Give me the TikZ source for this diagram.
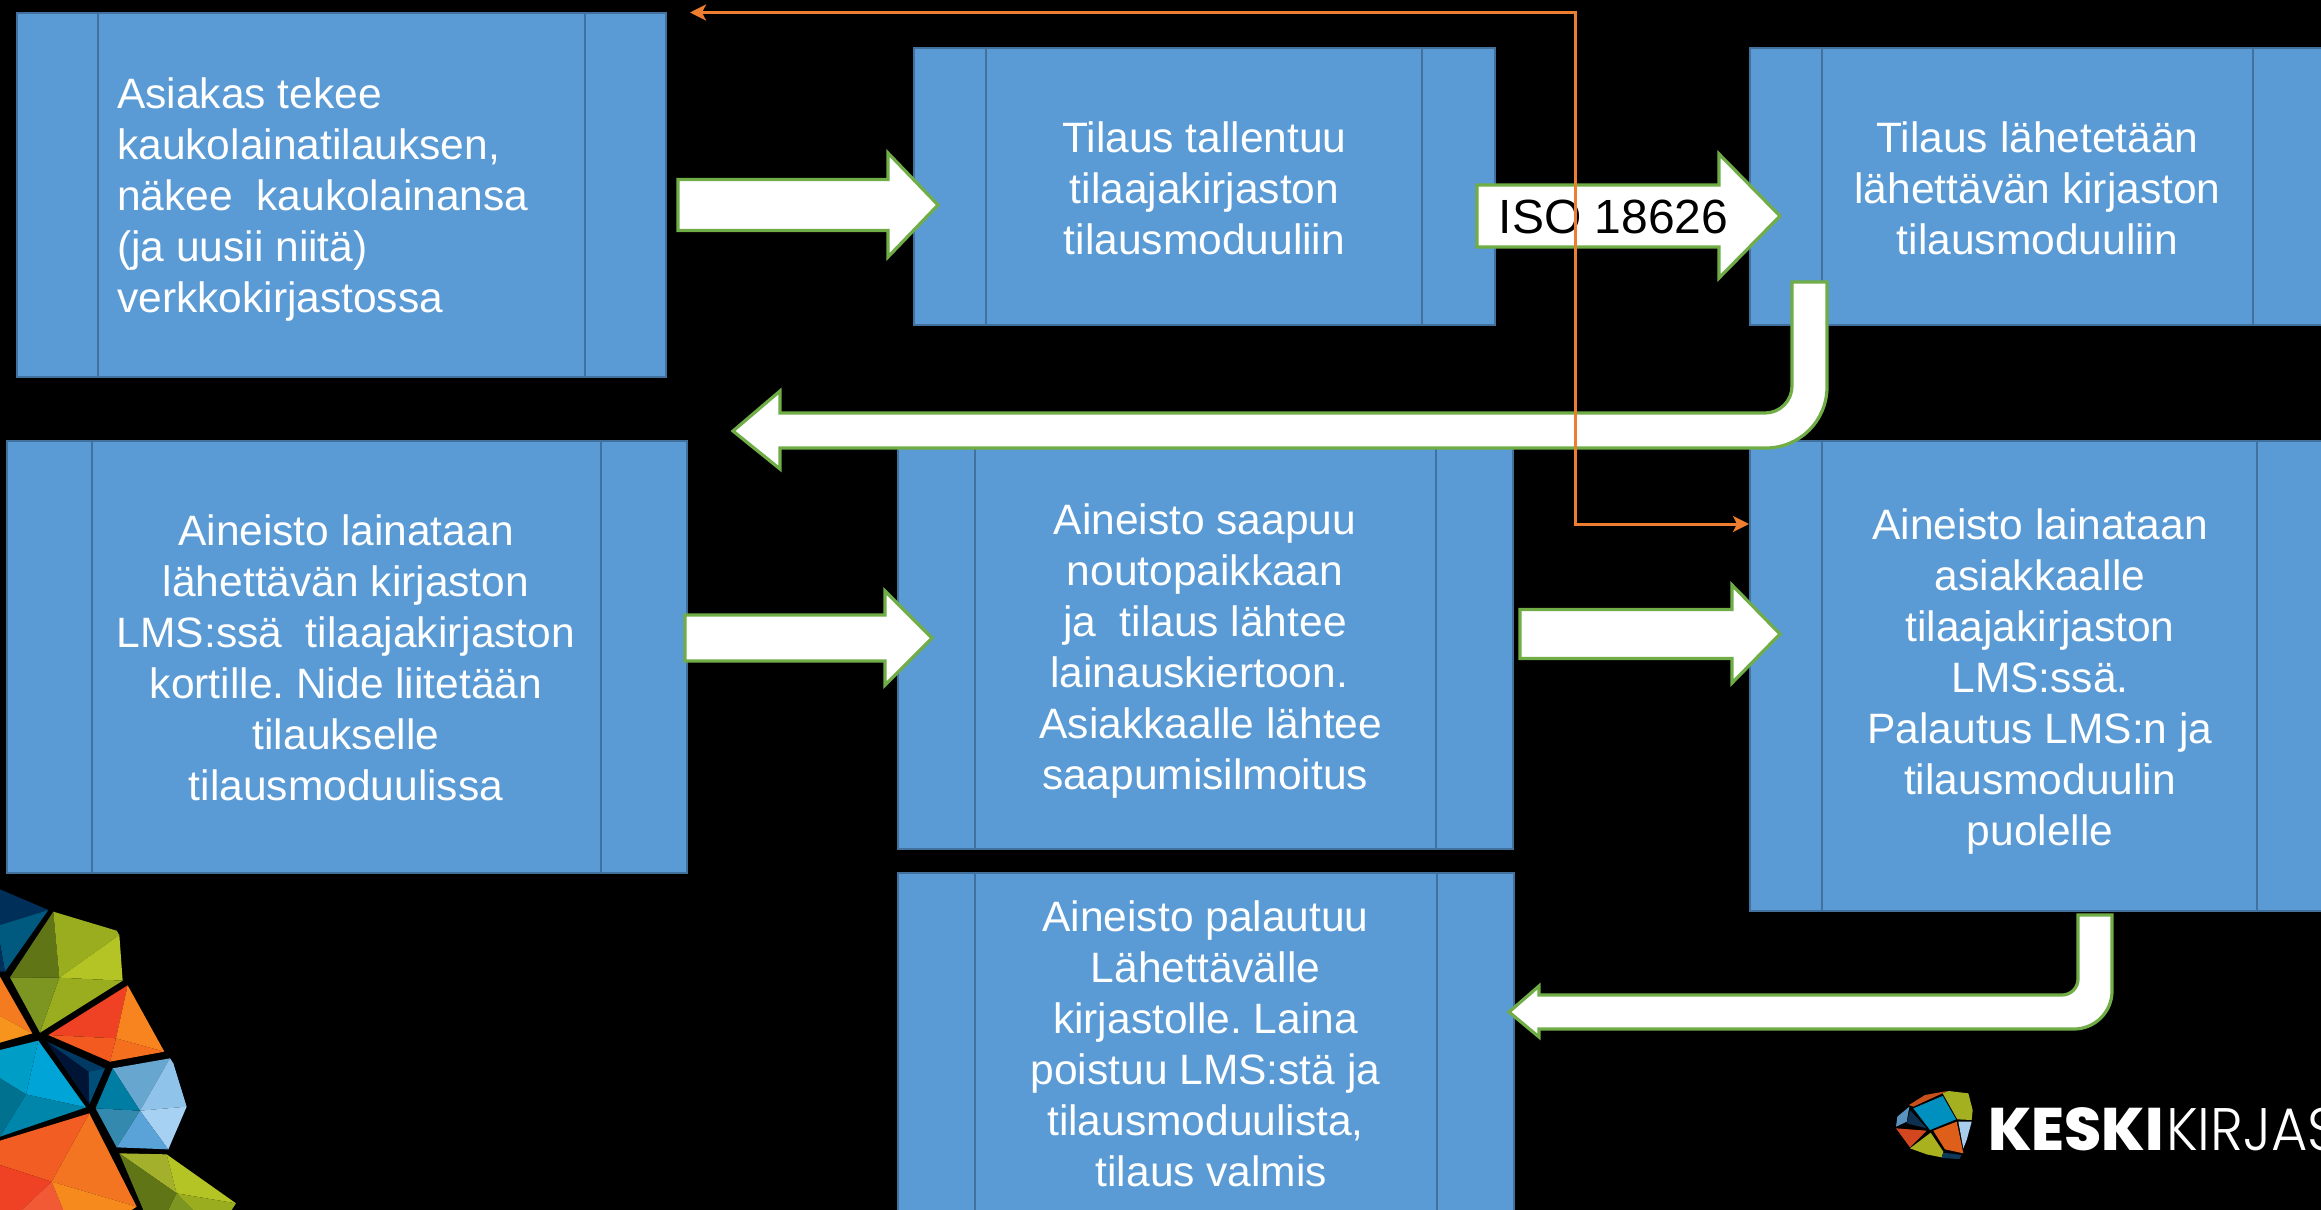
\documentclass[tikz,border=0pt]{standalone}
\usepackage{fontspec}
\setmainfont{Liberation Sans}
\newfontfamily\logoheavy{Poppins}[UprightFont=* ExtraBold]
\newfontfamily\logolight{Poppins}[UprightFont=* Light]
\usetikzlibrary{arrows.meta}
\definecolor{boxfill}{HTML}{5B9BD5}
\definecolor{boxedge}{HTML}{41719C}
\definecolor{arrowedge}{HTML}{70AD47}
\definecolor{linkorange}{HTML}{ED7D31}
\tikzset{
  procbox/.style={draw=boxedge,fill=boxfill,line width=2.6pt,rectangle,inner sep=0pt,outer sep=0pt},
  inner rule/.style={draw=boxedge,line width=2.6pt},
  boxtext/.style={text=white,align=center,inner sep=0pt,font=\fontsize{42.5}{51}\selectfont\frenchspacing},
  blockarrow/.style={draw=arrowedge,fill=white,line width=3.2pt,line join=miter,miter limit=10},
  link/.style={draw=linkorange,line width=3pt,{Stealth[length=16pt,width=16pt,inset=4pt]}-{Stealth[length=16pt,width=16pt,inset=4pt]}},
  facet/.style={line width=0pt,draw=none}
}
% name, x1, y1, x2, y2, rule 1, rule 2
\newcommand{\flowbox}[7]{%
  \node[procbox,anchor=north west,minimum width=#4pt-#2pt,minimum height=#5pt-#3pt] (#1) at (#2,#3) {};
  \draw[inner rule] (#6,#3) -- (#6,#5);
  \draw[inner rule] (#7,#3) -- (#7,#5);
}
% tail x, head base x, tip x, mid y, half shaft, half head
\newcommand{\straightarrow}[6]{%
  \path[blockarrow] (#1,#4-#5) -- (#2,#4-#5) -- (#2,#4-#6) -- (#3,#4) -- (#2,#4+#6) -- (#2,#4+#5) -- (#1,#4+#5) -- cycle;
}
\newcommand{\fc}[2]{\definecolor{fctmp}{HTML}{#1}\fill[fctmp,facet] #2 -- cycle;}
\begin{document}
\begin{tikzpicture}[x=1pt,y=-1pt]
\fill[black,use as bounding box] (0,0) rectangle (2321,1210);
\clip (0,0) rectangle (2321,1210);

% process boxes
\flowbox{b1}{17}{13}{666}{377}{98}{585}
\flowbox{b2}{914}{48}{1495}{325}{986}{1422}
\flowbox{b3}{1750}{48}{2340}{325}{1822}{2253}
\flowbox{b4}{7}{441}{687}{873}{92}{601}
\flowbox{b5}{898}{441}{1513}{849}{975}{1436}
\flowbox{b6}{1750}{441}{2340}{911}{1822}{2257}
\flowbox{b7}{898}{873}{1514}{1240}{975}{1437}

% box texts
\node[boxtext,align=left,anchor=west] (t1) at (117,199.5) {Asiakas tekee\\kaukolainatilauksen,\\näkee\ \ kaukolainansa\\(ja uusii niitä)\\verkkokirjastossa};
\node[boxtext] (t2) at (1204.5,188) {Tilaus tallentuu\\tilaajakirjaston\\tilausmoduuliin};
\node[boxtext] (t3) at (2037.5,188) {Tilaus lähetetään\\lähettävän kirjaston\\tilausmoduuliin};
\node[boxtext] (t4) at (346,658) {Aineisto lainataan\\lähettävän kirjaston\\LMS:ssä\ \ tilaajakirjaston\\kortille. Nide liitetään\\tilaukselle\\tilausmoduulissa};
\node[boxtext] (t5) at (1205,651) {Aineisto saapuu\\noutopaikkaan\\ja\ \ tilaus lähtee\\lainauskiertoon.\ \null\\\ Asiakkaalle lähtee\\saapumisilmoitus};
\node[boxtext] (t6) at (2040,681.5) {Aineisto lainataan\\asiakkaalle\\tilaajakirjaston\\LMS:ssä.\\Palautus LMS:n ja\\tilausmoduulin\\puolelle};
\node[boxtext] (t7) at (1205.5,1044) {Aineisto palautuu\\Lähettävälle\\kirjastolle. Laina\\poistuu LMS:stä ja\\tilausmoduulista,\\\ tilaus valmis};

% block arrows
\straightarrow{678}{888}{938}{205}{25.5}{52}
\straightarrow{1477}{1719}{1780}{216}{31}{62}
\straightarrow{685}{885}{932}{638}{23}{47}
\straightarrow{1520}{1732}{1780}{634}{24.5}{49}
\path[blockarrow] (1792,282) -- (1827,282) -- (1827,387) arc[start angle=0,end angle=90,radius=61]
  -- (780,448) -- (780,469) -- (733,431) -- (780,391) -- (780,413) -- (1765,413)
  arc[start angle=90,end angle=0,radius=27] -- cycle;
\path[blockarrow] (2078,915) -- (2112,915) -- (2112,991) arc[start angle=0,end angle=90,radius=38]
  -- (1539,1029) -- (1539,1037) -- (1509,1012) -- (1539,986) -- (1539,995) -- (2062,995)
  arc[start angle=90,end angle=0,radius=16] -- cycle;
\node[text=black,inner sep=0pt,font=\fontsize{48}{56}\selectfont,anchor=center] (iso) at (1613.5,217) {ISO 18626};

% orange elbow connector
\coordinate (linkA) at (690,12.5);
\coordinate (linkB) at (1749,524);
\draw[link] (linkA) -- (1575,12.5) -- (1575,524) -- (linkB);

% large mosaic, lower left
\begin{scope}[shift={(0,860)},x=0.33333pt,y=-0.33333pt]
\fc{002F5A}{(0,88) -- (145,150) -- (0,195)}
\fc{005A80}{(0,195) -- (145,150) -- (15,335) -- (0,250)}
\fc{00305C}{(0,250) -- (15,335) -- (0,335)}
\fc{5F7516}{(160,155) -- (178,353) -- (30,352)}
\fc{9AAD1F}{(160,155) -- (350,212) -- (358,225) -- (178,353)}
\fc{B4C424}{(358,225) -- (368,362) -- (178,353)}
\fc{9AAD1F}{(368,362) -- (120,518) -- (178,353)}
\fc{7D9622}{(120,518) -- (30,352) -- (178,353)}
\fc{F47B20}{(0,350) -- (97,520) -- (0,468)}
\fc{F7941D}{(0,468) -- (97,520) -- (0,548)}
\fc{EF4123}{(383,376) -- (348,535) -- (145,525)}
\fc{F7841E}{(383,376) -- (493,575) -- (348,535)}
\fc{F4701F}{(493,575) -- (330,605) -- (348,535)}
\fc{F25A1F}{(330,605) -- (145,525) -- (348,535)}
\fc{00A4D6}{(115,542) -- (258,742) -- (78,703)}
\fc{0086AB}{(258,742) -- (0,830) -- (78,703)}
\fc{009EC6}{(0,570) -- (115,542) -- (78,703) -- (0,655)}
\fc{00728F}{(0,655) -- (78,703) -- (0,830)}
\fc{003A63}{(140,545) -- (315,625) -- (265,635)}
\fc{004E7A}{(315,625) -- (268,733) -- (265,635)}
\fc{001535}{(268,733) -- (140,545) -- (265,635)}
\fc{66A6CF}{(338,625) -- (510,595) -- (420,752)}
\fc{8FC3EA}{(510,595) -- (520,610) -- (560,740) -- (420,752)}
\fc{A7D1F2}{(560,740) -- (505,868) -- (420,752)}
\fc{5AA3D8}{(505,868) -- (350,862) -- (420,752)}
\fc{348AAE}{(350,862) -- (287,745) -- (420,752)}
\fc{007DA3}{(287,745) -- (338,625) -- (420,752)}
\fc{F47521}{(268,760) -- (410,1040) -- (155,965)}
\fc{F15D22}{(268,760) -- (0,842) -- (0,915) -- (155,965)}
\fc{EF4123}{(0,915) -- (155,965) -- (65,1050) -- (0,1050)}
\fc{F15A35}{(155,965) -- (190,1050) -- (65,1050)}
\fc{F78A1D}{(155,965) -- (410,1040) -- (395,1050) -- (190,1050)}
\fc{A2B02B}{(358,880) -- (500,883) -- (530,1000)}
\fc{B4C424}{(500,883) -- (708,1030) -- (530,1000)}
\fc{5F7516}{(358,880) -- (530,1000) -- (505,1050) -- (430,1050)}
\fc{7D9622}{(530,1000) -- (505,1050) -- (580,1050)}
\fc{9AAD1F}{(530,1000) -- (708,1030) -- (695,1050) -- (580,1050)}
\end{scope}

% small logo mark
\begin{scope}[shift={(1860,1060)},x=0.33333pt,y=-0.33333pt]
\fc{C8501A}{(147,135) -- (195,105) -- (262,93) -- (160,140)}
\fc{0090C0}{(160,145) -- (248,108) -- (288,178) -- (210,210)}
\fc{A5B020}{(248,100) -- (265,93) -- (325,100) -- (338,150) -- (335,180) -- (292,178)}
\fc{5A93BD}{(148,140) -- (140,185) -- (108,200) -- (112,170)}
\fc{0D2F50}{(150,150) -- (200,205) -- (140,190)}
\fc{D2471F}{(108,205) -- (200,212) -- (150,262)}
\fc{A9B11F}{(150,265) -- (212,218) -- (250,275) -- (245,292) -- (200,283)}
\fc{DD5F1A}{(220,212) -- (290,185) -- (310,280) -- (255,268)}
\fc{A9CDEC}{(295,185) -- (335,185) -- (320,240) -- (310,265)}
\fc{0D3A58}{(250,278) -- (305,285) -- (298,297) -- (245,294)}
\end{scope}
\node[text=white,inner sep=0pt,anchor=base west,font=\logoheavy\fontsize{60}{60}\selectfont] (kk1) at (1988,1150) {KESKI};
\node[text=white,inner sep=0pt,anchor=base west,font=\logolight\fontsize{60}{60}\selectfont] (kk2) at (2166,1150) {\scalebox{0.93}[1]{KIRJAS}};
\end{tikzpicture}
\end{document}
